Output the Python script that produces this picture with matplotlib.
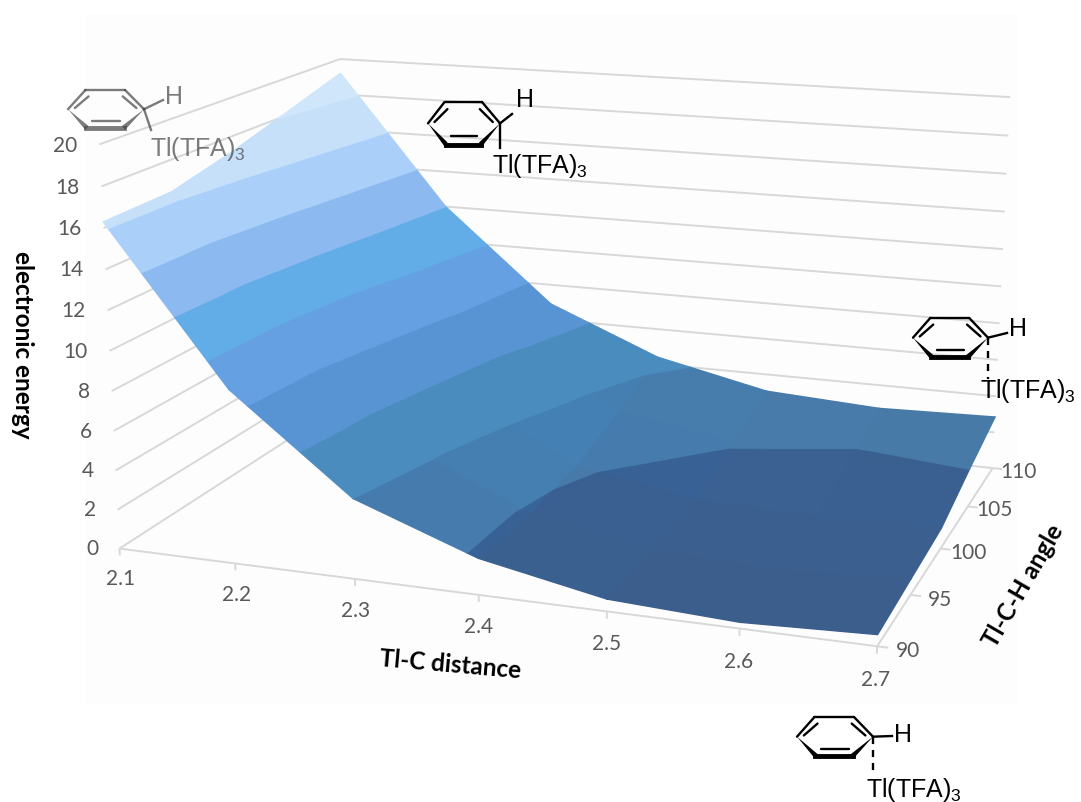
import numpy as np
import matplotlib
matplotlib.use('Agg')
import matplotlib.pyplot as plt
from matplotlib.patches import Rectangle, Polygon
from mpl_toolkits.mplot3d.art3d import Poly3DCollection, Line3DCollection

W, H = 1081, 803

# chart values
distance = [2.1, 2.2, 2.3, 2.4, 2.5, 2.6, 2.7]
angle = [90, 95, 100, 105, 110]
energy_90 = [16.3, 8.7, 4.0, 1.8, 0.6, 0.3, 0.55]
energy_95 = [16.4, 9.0, 4.5, 1.8, 0.7, 0.4, 0.8]
energy_100 = [17.2, 9.9, 5.3, 2.2, 1.1, 0.9, 1.05]
energy_105 = [18.2, 11.0, 6.2, 3.2, 2.1, 1.8, 2.0]
energy_110 = [19.2, 12.0, 6.9, 4.4, 3.05, 2.7, 2.85]
energy_ticks = [0, 2, 4, 6, 8, 10, 12, 14, 16, 18, 20]

band_colors = ['#3a6090', '#487aa8', '#4a8cbe', '#5894d4', '#64a0e2', '#62ace8',
               '#8cbaf0', '#aad0fa', '#c6e0fa', '#d0e6fa']

plt.rcParams['font.family'] = ['Lato', 'DejaVu Sans']
plt.rcParams['mathtext.default'] = 'regular'

fig = plt.figure(figsize=(W / 100, H / 100), dpi=100, facecolor='white')
fig.add_artist(Rectangle((85 / W, 1 - 705 / H), 933 / W, 690 / H, transform=fig.transFigure,
                         facecolor='#fdfdfd', edgecolor='none', zorder=-1))
ax = fig.add_axes([0, 0, 1, 1], projection='3d', computed_zorder=False)
ax.set_xticks([])
ax.set_yticks([])
ax.set_zticks([])
ax.set_axis_off()
ax.patch.set_alpha(0)

# camera: fit the cube of the chart to where its corners lie in the picture
camera_points = [
    (2.1, 90, 0, 119, 550), (2.7, 90, 0, 877, 645), (2.7, 110, 0, 991, 472),
    (2.1, 110, 0, 349, 400), (2.1, 90, 20, 100, 144.5), (2.1, 110, 20, 340, 60),
    (2.7, 110, 20, 1010, 98), (2.1, 90, 10, 109, 354), (2.4, 90, 0, 478, 597),
    (2.3, 90, 0, 355, 580), (2.7, 100, 0, 943, 548),
]
rows, rhs = [], []
for x, y, z, px, py in camera_points:
    py = H - py
    rows.append([x, y, z, 1, 0, 0, 0, 0, -px * x, -px * y, -px * z])
    rhs.append(px)
    rows.append([0, 0, 0, 0, x, y, z, 1, -py * x, -py * y, -py * z])
    rhs.append(py)
sol = np.linalg.lstsq(np.array(rows, float), np.array(rhs, float), rcond=None)[0]
cam = np.append(sol, 1).reshape(3, 4)


def fitted_proj():
    p = np.linalg.inv(ax.transData.get_matrix()) @ cam
    return np.array([p[0], p[1], [0, 1, 0, 0], p[2]])


ax.get_proj = fitted_proj


def to_pixels(x, y, z):
    u, v, w = cam @ np.array([x, y, z, 1.0])
    return u / w, H - v / w


def clip_poly(poly, level, keep_above):
    out = []
    for i in range(len(poly)):
        a, b = poly[i], poly[(i + 1) % len(poly)]
        ina = a[2] >= level if keep_above else a[2] <= level
        inb = b[2] >= level if keep_above else b[2] <= level
        if ina:
            out.append(a)
        if ina != inb:
            t = (level - a[2]) / (b[2] - a[2])
            out.append(tuple(a[k] + t * (b[k] - a[k]) for k in range(3)))
    return out


grey = '#d8d8d8'
segs = []
# walls
for v in energy_ticks:
    segs.append([(2.1, 90, v), (2.1, 110, v), (2.7, 110, v)])
# floor edges and tick marks
segs.append([(2.1, 90, 0), (2.7, 90, 0), (2.7, 110, 0)])
for d in distance:
    segs.append([(d, 90, 0), (d, 90, -0.35)])
for a in angle:
    segs.append([(2.7, a, 0), (2.708, a, 0)])
lines = Line3DCollection(segs, colors=grey, linewidths=1.4, zorder=1)
lines.set_clip_on(False)
ax.add_collection3d(lines, autolim=False)

# surface: every cell is cut into the two unit colour bands
energy = np.array([energy_90, energy_95, energy_100, energy_105, energy_110])
for b, col in enumerate(band_colors):
    lo, hi = 2 * b, 2 * b + 2
    base = np.array(matplotlib.colors.to_rgb(col))
    polys, cols = [], []
    for j in range(len(angle) - 1):
        for i in range(len(distance) - 1):
            p00 = (distance[i], angle[j], energy[j, i])
            p10 = (distance[i + 1], angle[j], energy[j, i + 1])
            p11 = (distance[i + 1], angle[j + 1], energy[j + 1, i + 1])
            p01 = (distance[i], angle[j + 1], energy[j + 1, i])
            dzdx = (energy[j, i] + energy[j + 1, i] - energy[j, i + 1] - energy[j + 1, i + 1]) / 2
            dzdy = (energy[j + 1, i] + energy[j + 1, i + 1] - energy[j, i] - energy[j, i + 1]) / 2
            # slight change of tint from facet to facet in the dark bands
            t = np.clip(0.3 * (abs(dzdx) - 1.5) + 0.5 * dzdy, -1, 1) if b < 2 else 0
            c = np.clip(base + t * np.array([-4, 6, 12]) / 255, 0, 1)
            for tri in ([p00, p10, p11], [p00, p11, p01]):
                part = clip_poly(clip_poly(tri, lo, True), hi, False)
                if len(part) >= 3:
                    polys.append(part)
                    cols.append(c)
    if polys:
        pc = Poly3DCollection(polys, facecolors=cols, edgecolors=cols, linewidths=1.0, zorder=3 + b)
        pc.set_clip_on(False)
        ax.add_collection3d(pc, autolim=False)

# flat overlay in picture pixels for all text and the drawn molecules
ov = fig.add_axes([0, 0, 1, 1], zorder=5)
ov.set_xlim(0, W)
ov.set_ylim(H, 0)
ov.set_xticks([])
ov.set_yticks([])
ov.axis('off')
ov.patch.set_alpha(0)

# tick labels
tick_col = '#595959'
for v in energy_ticks:
    ov.text(*to_pixels(2.081, 90, v - 0.1), str(v), ha='right', va='center', fontsize=15, color=tick_col)
for d in distance:
    ov.text(*to_pixels(d, 90, -1.55), str(d), ha='center', va='center', fontsize=15, color=tick_col)
for a in angle:
    ov.text(*to_pixels(2.722, a, 0), str(a), ha='center', va='center', fontsize=15, color=tick_col)

ov.text(22, 345, 'electronic energy', rotation=-90, ha='center', va='center', fontsize=17.5, fontweight='bold', color='black')
ov.text(450, 665, 'Tl-C distance', rotation=-5, ha='center', va='center', fontsize=17.5, fontweight='bold', color='black')
ov.text(1023, 586, 'Tl-C-H angle', rotation=60, ha='center', va='center', fontsize=17.5, fontweight='bold', color='black')


def benzene(x0, y0, w, h, col='black', alpha=1.0):
    ul, ur = (x0 + w * 0.23, y0), (x0 + w * 0.75, y0)
    left, right = (x0, y0 + h * 0.48), (x0 + w, y0 + h * 0.48)
    ll, lr = (x0 + w * 0.23, y0 + h), (x0 + w * 0.75, y0 + h)
    kw = dict(color=col, lw=1.7, alpha=alpha, solid_capstyle='round')
    for a, b in [(left, ul), (ul, ur), (ur, right)]:
        ov.plot([a[0], b[0]], [a[1], b[1]], **kw)
    ov.plot([ll[0] + 1, lr[0] - 1], [ll[1] - 2, lr[1] - 2], color=col, lw=3.5, alpha=alpha)
    ov.add_patch(Polygon([left, (ll[0] + 3, ll[1] - 4), (ll[0], ll[1])], closed=True, color=col, alpha=alpha, lw=0))
    ov.add_patch(Polygon([right, (lr[0] - 3, lr[1] - 4), (lr[0], lr[1])], closed=True, color=col, alpha=alpha, lw=0))
    # inner double bonds
    ov.plot([x0 + w * 0.09, x0 + w * 0.27], [y0 + h * 0.45, y0 + h * 0.16], **kw)
    ov.plot([x0 + w * 0.72, x0 + w * 0.9], [y0 + h * 0.16, y0 + h * 0.45], **kw)
    ov.plot([x0 + w * 0.32, x0 + w * 0.68], [y0 + h * 0.77, y0 + h * 0.77], **kw)
    return right


def mol_text(x, y, s, col='black', size=18, alpha=1.0):
    ov.text(x, y, s, family=['Liberation Sans'], ha='left', va='center', fontsize=size, color=col, alpha=alpha)


# top left, blurred in the source
g = '#444444'
r = benzene(68, 91, 76, 40, col=g, alpha=0.7)
ov.plot([r[0], 163], [r[1], 101], color=g, lw=1.7, alpha=0.7)
ov.plot([r[0], 151], [r[1], 131], color=g, lw=1.7, alpha=0.7)
mol_text(165, 97, 'H', col=g, alpha=0.7)
mol_text(150, 149, 'Tl(TFA)$_3$', col=g, alpha=0.7)

# top centre
r = benzene(428, 103, 72, 44.5)
ov.plot([r[0], 512], [r[1], 115], color='black', lw=1.7)
ov.plot([r[0], r[0]], [r[1], 149], color='black', lw=1.7)
mol_text(516, 100, 'H')
mol_text(492, 166, 'Tl(TFA)$_3$')

# right
r = benzene(913, 319, 75, 41)
ov.plot([r[0], 1007], [r[1], 334], color='black', lw=1.7)
ov.plot([r[0], r[0]], [r[1], 380], color='black', lw=1.7, ls=(0, (3, 2.5)))
mol_text(1009, 329, 'H')
mol_text(980, 391, 'Tl(TFA)$_3$')

# bottom
r = benzene(797, 718, 76, 41)
ov.plot([r[0], 892], [r[1], 737], color='black', lw=1.7)
ov.plot([r[0], r[0]], [r[1], 775], color='black', lw=1.7, ls=(0, (3, 2.5)))
mol_text(894, 735, 'H')
mol_text(866, 790, 'Tl(TFA)$_3$')

fig.savefig('out.png', dpi=100)
